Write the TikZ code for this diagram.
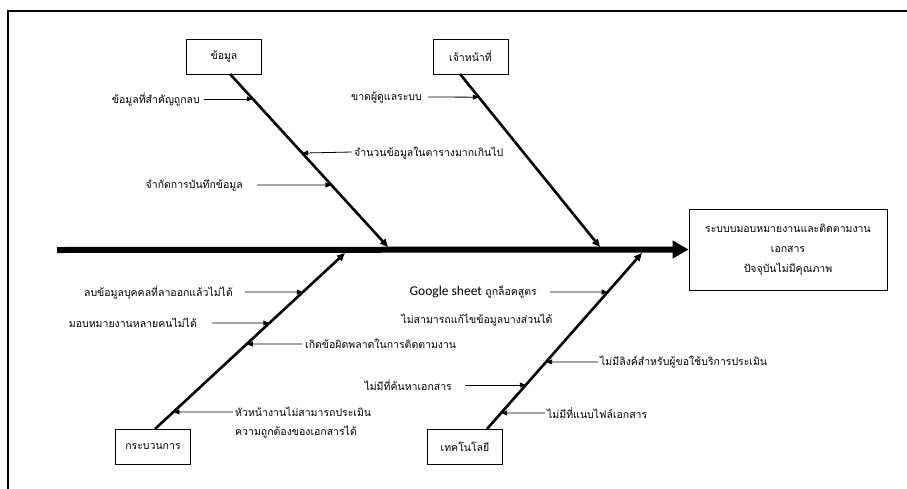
\documentclass[tikz,border=0pt]{standalone}
\usepackage{fontspec}
\newfontfamily\thaifont[Script=Thai]{Loma}
\newfontfamily\gfont{Carlito}
\usetikzlibrary{arrows.meta,calc}
\begin{document}
\begin{tikzpicture}[x=1pt,y=-1pt,
  thai/.style={font=\thaifont\fontsize{10.5}{12}\selectfont},
  lbl/.style={thai, inner sep=0pt},
  catbox/.style={draw, line width=0.8pt, minimum width=75pt, minimum height=35pt, thai, inner sep=0pt},
  bone/.style={line width=2.6pt, -{Triangle[length=8pt,width=7pt]}},
  lab/.style={line width=0.8pt, -{Triangle[length=6pt,width=5pt]}},
]
\useasboundingbox (0,0) rectangle (907,488);
% frame
\draw[line width=1.3pt] (908,11) -- (8,11) -- (8,489);

% spine and effect
\coordinate (sp0) at (57,250);
\node[draw, line width=0.8pt, minimum width=198pt, minimum height=81pt, align=center, thai,
      font=\thaifont\fontsize{10.5}{20}\selectfont] (effect) at (788,249.5)
      {ระบบบมอบหมายงานและติดตามงาน\\เอกสาร\\ปัจจุบันไม่มีคุณภาพ};
\draw[line width=6pt, -{Triangle[length=16pt,width=17pt]}] (sp0) -- (effect.west);

% category boxes
\node[catbox] (kdata) at (224,56.5) {ข้อมูล};
\node[catbox] (kstaff) at (470.5,56.5) {เจ้าหน้าที่};
\node[catbox] (kproc) at (153,446.5) {กระบวนการ};
\node[catbox] (ktech) at (465,446.5) {เทคโนโลยี};

% bones
\coordinate (a1) at (230,74);  \coordinate (a2) at (388,247);
\coordinate (b1) at (460,74);  \coordinate (b2) at (600,247);
\coordinate (c1) at (155,429); \coordinate (c2) at (345,253);
\coordinate (d1) at (487,429); \coordinate (d2) at (642,253);
\draw[bone] (a1) -- (a2);
\draw[bone] (b1) -- (b2);
\draw[bone] (c1) -- (c2);
\draw[bone] (d1) -- (d2);

% points on bones
\coordinate (pa1) at ($(a1)!0.144!(a2)$);
\coordinate (pa2) at ($(a1)!0.457!(a2)$);
\coordinate (pa3) at ($(a1)!0.642!(a2)$);
\coordinate (pb1) at ($(b1)!0.134!(b2)$);
\coordinate (pc1) at ($(c1)!0.778!(c2)$);
\coordinate (pc2) at ($(c1)!0.602!(c2)$);
\coordinate (pc3) at ($(c1)!0.483!(c2)$);
\coordinate (pc4) at ($(c1)!0.097!(c2)$);
\coordinate (pd1) at ($(d1)!0.778!(d2)$);
\coordinate (pd2) at ($(d1)!0.381!(d2)$);
\coordinate (pd3) at ($(d1)!0.250!(d2)$);
\coordinate (pd4) at ($(d1)!0.091!(d2)$);

% labels - data
\node[lbl, anchor=east] (ta1) at (200,99) {ข้อมูลที่สำคัญถูกลบ};
\coordinate (sa1) at (204,99);
\draw[lab] (sa1) -- (pa1 -| sa1) -- (pa1);
\node[lbl, anchor=west] (ta2) at (354,153) {จำนวนข้อมูลในตารางมากเกินไป};
\coordinate (sa2) at (352,152);
\draw[lab] (sa2) -- (pa2);
\node[lbl, anchor=east] (ta3) at (243,185) {จำกัดการบันทึกข้อมูล};
\coordinate (sa3) at (257,185);
\draw[lab] (sa3) -- (pa3);

% labels - staff
\node[lbl, anchor=east] (tb1) at (422,97) {ขาดผู้ดูแลระบบ};
\coordinate (sb1) at (428,97);
\draw[lab] (sb1) -- (pb1);

% labels - process
\node[lbl, anchor=east] (tc1) at (233,292) {ลบข้อมูลบุคคลที่ลาออกแล้วไม่ได้};
\coordinate (sc1) at (245,292);
\draw[lab] (sc1) -- (pc1);
\node[lbl, anchor=east] (tc2) at (197,323) {มอบหมายงานหลายคนไม่ได้};
\coordinate (sc2) at (212,323);
\draw[lab] (sc2) -- (pc2);
\node[lbl, anchor=west] (tc3) at (305,344) {เกิดข้อผิดพลาดในการติดตามงาน};
\coordinate (sc3) at (302,344);
\draw[lab] (sc3) -- (pc3);
\node[lbl, anchor=west] (tc4) at (235,412) {หัวหน้างานไม่สามารถประเมิน};
\node[lbl, anchor=west] (tc4b) at (235,432) {ความถูกต้องของเอกสารได้};
\coordinate (sc4) at (233,412);
\draw[lab] (sc4) -- (pc4);

% labels - technology
\node[lbl, anchor=east] (td1) at (537,292) {{\gfont\fontsize{13.5}{15}\selectfont Google sheet} ถูกล็อคสูตร};
\node[lbl] (td1b) at (477,320) {ไม่สามารถแก้ไขข้อมูลบางส่วนได้};
\coordinate (sd1) at (550,292);
\draw[lab] (sd1) -- (pd1);
\node[lbl, anchor=west] (td2) at (600,362) {ไม่มีลิงค์สำหรับผู้ขอใช้บริการประเมิน};
\coordinate (sd2) at (598,362);
\draw[lab] (sd2) -- (pd2);
\node[lbl, anchor=east] (td3) at (452,385) {ไม่มีที่ค้นหาเอกสาร};
\coordinate (sd3) at (465,385);
\draw[lab] (sd3) -- (pd3);
\node[lbl, anchor=west] (td4) at (547,413) {ไม่มีที่แนบไฟล์เอกสาร};
\coordinate (sd4) at (545,413);
\draw[lab] (sd4) -- (pd4);
\end{tikzpicture}
\end{document}
